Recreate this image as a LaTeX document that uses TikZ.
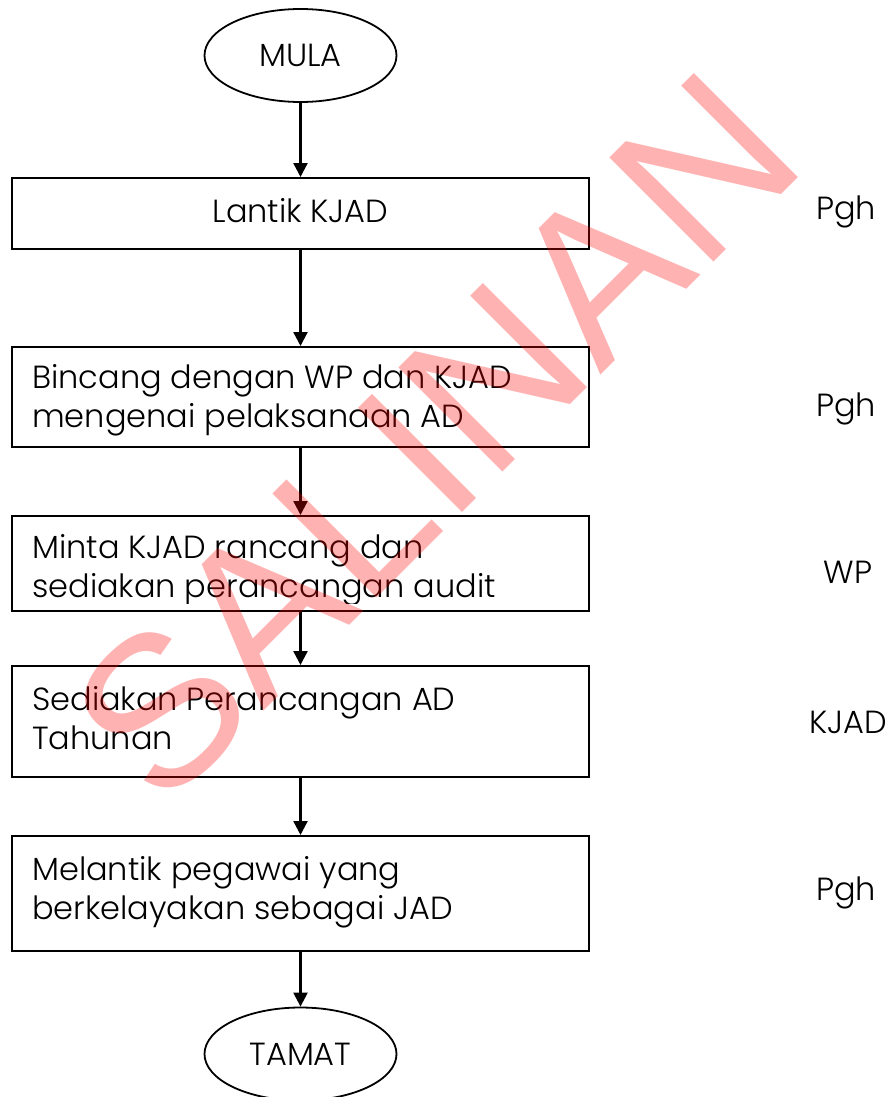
\documentclass[tikz,border=0pt]{standalone}
\usepackage{fontspec}
\setmainfont{Poppins Light}
\newfontfamily\markfont{Liberation Sans}
\usetikzlibrary{arrows.meta,shapes.geometric}

\begin{document}
\begin{tikzpicture}[x=1pt,y=-1pt,
  every node/.style={inner sep=0pt},
  bodyfont/.style={font=\fontsize{32}{39}\selectfont},
  flowbox/.style={draw, line width=2pt, rectangle, minimum width=577pt},
  terminal/.style={draw, line width=1.8pt, ellipse, minimum width=192pt,
    minimum height=93pt, bodyfont},
  steptext/.style={bodyfont, anchor=base west},
  actor/.style={bodyfont, anchor=base},
  flow/.style={line width=2.3pt, -{Triangle[length=14pt,width=14pt]}},
  watermark/.style={font=\markfont\fontsize{214}{214}\selectfont,
    text=red, text opacity=0.3, rotate=45}
]
\useasboundingbox (0,0) rectangle (893,1097);

% start and end terminals
\node[terminal] (start) at (300.5,55.5) {MULA};
\node[terminal] (stop) at (300.5,1054) {TAMAT};

% process boxes
\node[flowbox, minimum height=71pt]  (b1) at (300.5,213.5) {};
\node[flowbox, minimum height=100pt] (b2) at (300.5,397) {};
\node[flowbox, minimum height=95pt]  (b3) at (300.5,563.5) {};
\node[flowbox, minimum height=111pt] (b4) at (300.5,721.5) {};
\node[flowbox, minimum height=115pt] (b5) at (300.5,893.5) {};

% step texts
\node[bodyfont, anchor=base] (t1) at (300.5,222) {Lantik KJAD};
\node[steptext] (t2) at (32,388) {\parbox[t]{545pt}{Bincang dengan WP dan KJAD\\mengenai pelaksanaan AD}};
\begin{scope}
  \clip (12,516) rectangle (589,603);
  \node[steptext] (t3) at (32,558) {\parbox[t]{545pt}{Minta KJAD rancang dan\\sediakan perancangan audit}};
\end{scope}
\node[steptext] (t4) at (32,710) {\parbox[t]{545pt}{Sediakan Perancangan AD\\Tahunan}};
\node[steptext] (t5) at (32,880) {\parbox[t]{545pt}{Melantik pegawai yang\\berkelayakan sebagai JAD}};

% responsible parties
\node[actor] (r1) at (846,219) {Pgh};
\node[actor] (r2) at (846,416) {Pgh};
\node[actor] (r3) at (848,583) {WP};
\node[actor] (r4) at (848,733) {KJAD};
\node[actor] (r5) at (846,900) {Pgh};

% connectors
\draw[flow] (start.south) -- (b1.north);
\draw[flow] (b1.south) -- (b2.north);
\draw[flow] (b2.south) -- (b3.north);
\draw[flow] (b3.south) -- (b4.north);
\draw[flow] (b4.south) -- (b5.north);
\draw[flow] (b5.south) -- (stop.north);

% copy stamp
\node[watermark] (stamp) at (434.5,436.7) {SALINAN};
\end{tikzpicture}
\end{document}
